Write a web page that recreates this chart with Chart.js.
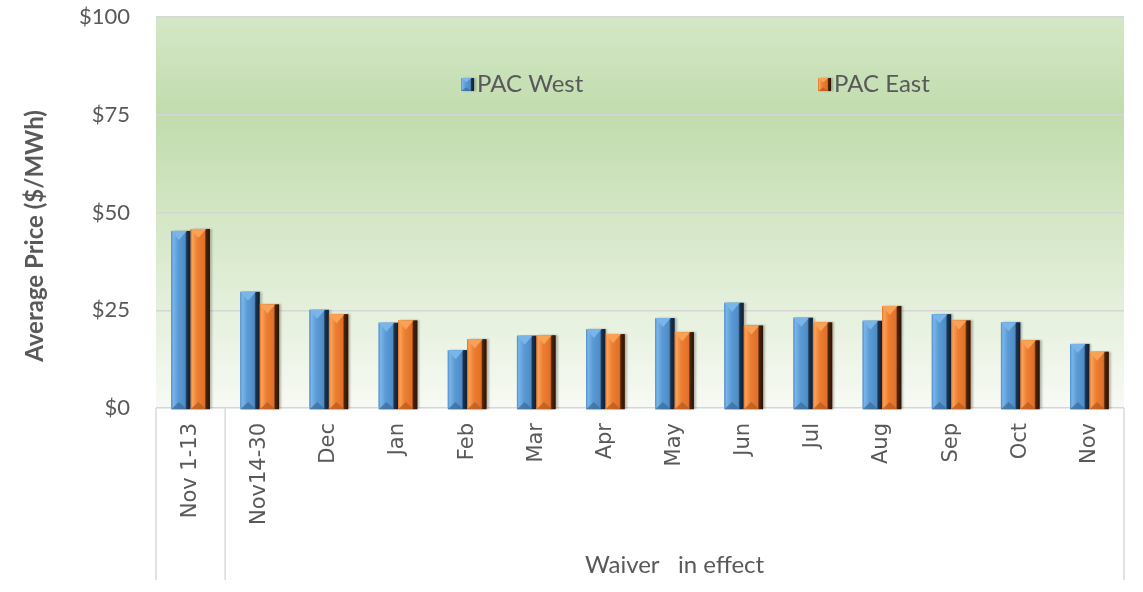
<!DOCTYPE html>
<html>
<head>
<meta charset="utf-8">
<title>PAC West / PAC East average price</title>
<script src="https://cdn.jsdelivr.net/npm/chart.js@4.4.0/dist/chart.umd.min.js"></script>
<style>
    html, body { margin: 0; padding: 0; background: #ffffff; }
    #wrap { width: 1143px; height: 592px; position: relative; }
</style>
</head>
<body>
<div id="wrap"><canvas id="priceChart"></canvas></div>
<script>
// Chart data
const categories = ['Nov 1-13', 'Nov14-30', 'Dec', 'Jan', 'Feb', 'Mar', 'Apr', 'May', 'Jun', 'Jul', 'Aug', 'Sep', 'Oct', 'Nov'];
const pacWest = [45.3, 29.7, 25.1, 21.8, 14.8, 18.5, 20.2, 23.0, 26.9, 23.1, 22.3, 24.0, 21.9, 16.4];
const pacEast = [45.8, 26.5, 24.0, 22.4, 17.6, 18.6, 18.9, 19.4, 21.1, 21.9, 26.1, 22.4, 17.3, 14.4];
const seriesNames = ['PAC West', 'PAC East'];
const yTicks = [0, 25, 50, 75, 100];
const yTitle = 'Average Price ($/MWh)';
const groupLabel = 'Waiver   in effect';

const TEXT = '#595959';
const LINE = '#d9d9d9';

// colours for the bevelled bars
const bevel = [
    { face: '#5b9bd5', light: '#7ab5ea', mid: '#4f8cc6', dark: '#1a3350', darker: '#0f1f31', bottom: '#3b6c9c' },
    { face: '#ed7d31', light: '#f9a256', mid: '#e0712a', dark: '#4a2408', darker: '#2b1404', bottom: '#b95a1d' }
];

function drawBevelBar(ctx, left, right, top, bottom, c) {
    const w = right - left;
    if (w <= 0 || bottom - top <= 0) return;
    const faceR = left + w * 0.8;

    ctx.save();
    ctx.shadowColor = 'rgba(0,0,0,0.25)';
    ctx.shadowOffsetX = 2;
    ctx.shadowBlur = 2;
    const g = ctx.createLinearGradient(left, 0, right, 0);
    g.addColorStop(0, c.mid);
    g.addColorStop(0.1, c.light);
    g.addColorStop(0.35, c.face);
    g.addColorStop(0.72, c.mid);
    g.addColorStop(0.8, c.dark);
    g.addColorStop(1, c.darker);
    ctx.fillStyle = g;
    ctx.fillRect(left, top, w, bottom - top);
    ctx.restore();

    // top chevron
    const d = Math.min(9, (bottom - top) / 3);
    ctx.fillStyle = c.light;
    ctx.beginPath();
    ctx.moveTo(left, top);
    ctx.lineTo(faceR, top);
    ctx.lineTo((left + faceR) / 2, top + d);
    ctx.closePath();
    ctx.fill();

    // bottom chevron
    ctx.globalAlpha = 0.75;
    ctx.fillStyle = c.bottom;
    ctx.beginPath();
    ctx.moveTo(left, bottom);
    ctx.lineTo(faceR, bottom);
    ctx.lineTo((left + faceR) / 2, bottom - d * 0.8);
    ctx.closePath();
    ctx.fill();
    ctx.globalAlpha = 1;
}

const backdropPlugin = {
    id: 'backdrop',
    beforeDraw(chart) {
        const { ctx, chartArea: a } = chart;
        const g = ctx.createLinearGradient(0, a.top, 0, a.bottom);
        g.addColorStop(0, '#d4e7c7');
        g.addColorStop(0.25, '#c1dcad');
        g.addColorStop(1, '#f7faf4');
        ctx.save();
        ctx.fillStyle = g;
        ctx.fillRect(a.left, a.top, a.right - a.left, a.bottom - a.top);
        ctx.restore();
    }
};

const bevelPlugin = {
    id: 'bevelBars',
    afterDatasetsDraw(chart) {
        const ctx = chart.ctx;
        chart.data.datasets.forEach((ds, i) => {
            const meta = chart.getDatasetMeta(i);
            meta.data.forEach(bar => {
                const p = bar.getProps(['x', 'y', 'base', 'width'], true);
                drawBevelBar(ctx, p.x - p.width / 2, p.x + p.width / 2, p.y, p.base + 2, bevel[i]);
            });
        });
    }
};

const decorPlugin = {
    id: 'decor',
    afterDraw(chart) {
        const { ctx, chartArea: a } = chart;
        const x = chart.scales.x;
        ctx.save();

        // separators under the axis
        const sep = (x.getPixelForValue(0) + x.getPixelForValue(1)) / 2;
        ctx.strokeStyle = LINE;
        ctx.lineWidth = 1.5;
        [a.left, sep, a.right].forEach(px => {
            ctx.beginPath();
            ctx.moveTo(px, a.bottom);
            ctx.lineTo(px, 580);
            ctx.stroke();
        });

        // group label
        ctx.fillStyle = TEXT;
        ctx.font = '24px Lato';
        ctx.textAlign = 'center';
        ctx.textBaseline = 'middle';
        ctx.fillText(groupLabel, (sep + a.right) / 2, 565);

        // y axis title
        ctx.save();
        ctx.translate(35, 236);
        ctx.rotate(-Math.PI / 2);
        ctx.font = 'bold 24px Lato';
        ctx.fillText(yTitle, 0, 0);
        ctx.restore();

        // legend inside the plot
        const legendX = [461, 818];
        ctx.textAlign = 'left';
        ctx.font = '24px Lato';
        seriesNames.forEach((name, i) => {
            const lx = legendX[i];
            const ly = 84;
            drawBevelBar(ctx, lx, lx + 13, ly - 6, ly + 7, bevel[i]);
            ctx.fillStyle = TEXT;
            ctx.fillText(name, lx + 16, ly);
        });
        ctx.restore();
    }
};

new Chart(document.getElementById('priceChart'), {
    type: 'bar',
    data: {
        labels: categories,
        datasets: [
            { label: seriesNames[0], data: pacWest, backgroundColor: bevel[0].face },
            { label: seriesNames[1], data: pacEast, backgroundColor: bevel[1].face }
        ]
    },
    options: {
        responsive: true,
        maintainAspectRatio: false,
        animation: false,
        layout: { padding: { top: 17, right: 19, left: 0, bottom: 0 } },
        datasets: {
            bar: { categoryPercentage: 0.56, barPercentage: 1, borderWidth: 0 }
        },
        plugins: {
            legend: { display: false },
            tooltip: { enabled: false }
        },
        scales: {
            x: {
                grid: { display: false, drawTicks: false },
                border: { display: false },
                ticks: {
                    autoSkip: false,
                    minRotation: 90,
                    maxRotation: 90,
                    padding: 15,
                    color: TEXT,
                    font: { family: 'DejaVu Sans', size: 21 }
                },
                afterFit(scale) { scale.height = 184; }
            },
            y: {
                min: 0,
                max: 100,
                afterBuildTicks(scale) { scale.ticks = yTicks.map(v => ({ value: v })); },
                grid: {
                    color: '#d6d6d6',
                    lineWidth: 1.5,
                    drawTicks: true,
                    tickLength: 24,
                    tickColor: 'rgba(0,0,0,0)'
                },
                border: { display: false },
                ticks: {
                    padding: 2,
                    color: TEXT,
                    font: { family: 'Lato', size: 22 },
                    callback: v => '$' + v
                },
                title: { display: false },
                afterFit(scale) { scale.width = 156; }
            }
        }
    },
    plugins: [backdropPlugin, bevelPlugin, decorPlugin]
});
</script>
</body>
</html>
